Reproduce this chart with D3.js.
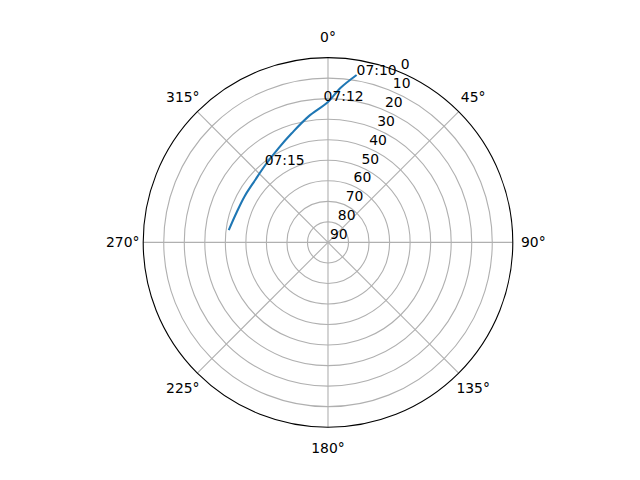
<!DOCTYPE html>
<html>
<head>
	<title></title>
	<style>
		body { margin: 0; background: #fff; }
		text { font-family: "DejaVu Sans", sans-serif; font-size: 13.9px; fill: #000; }
	</style>
</head>
<body>
	<svg id="container" width="640" height="480"></svg>
</body>
<script src="https://cdn.jsdelivr.net/npm/d3@7"></script>
<script>
	// pass track: azimuth (deg, clockwise from north) and elevation (deg)
	const azimuth = [9.7, 4.5, 0.1, 351.1, 341.6, 332.2, 321.0, 310.6, 299.0, 288.6, 277.1]
	const elevation = [7.3, 14.7, 21.5, 28.0, 34.0, 38.2, 41.5, 43.3, 43.6, 43.2, 41.3]

	// time annotations along the track
	const labelTimes = ["07:10", "07:12", "07:15"]
	const labelAz = [9.7, 358.2, 320.7]
	const labelEl = [7.3, 21.0, 41.3]

	const thetaTicks = [0, 45, 90, 135, 180, 225, 270, 315]
	const rTicks = [0, 10, 20, 30, 40, 50, 60, 70, 80, 90]

	let svg = d3.select("#container")
	let cx = 328, cy = 242.4, R = 184.8

	let g = svg.append("g").attr("transform", `translate(${cx},${cy})`)

	// elevation 90 at the centre, 0 on the rim
	let rScale = d3.scaleLinear().domain([90, 0]).range([0, R])
	let aScale = d3.scaleLinear().domain([0, 360]).range([0, 2 * Math.PI])

	let px = (az, el) => [rScale(el) * Math.sin(aScale(az)), -rScale(el) * Math.cos(aScale(az))]

	// grid circles
	g.selectAll("circle.grid")
		.data(rTicks.filter(d => d > 0 && d < 90))
		.enter().append("circle")
		.attr("class", "grid")
		.attr("r", d => rScale(d))
		.attr("fill", "none")
		.attr("stroke", "#b0b0b0")
		.attr("stroke-width", 1.1)

	// radial grid lines
	g.selectAll("line.grid")
		.data(thetaTicks)
		.enter().append("line")
		.attr("class", "grid")
		.attr("x1", 0).attr("y1", 0)
		.attr("x2", d => px(d, 0)[0])
		.attr("y2", d => px(d, 0)[1])
		.attr("stroke", "#b0b0b0")
		.attr("stroke-width", 1.1)

	// outer spine
	g.append("circle")
		.attr("r", rScale(0))
		.attr("fill", "none")
		.attr("stroke", "#000")
		.attr("stroke-width", 1.1)

	// theta labels
	g.selectAll("text.theta")
		.data(thetaTicks)
		.enter().append("text")
		.attr("class", "theta")
		.attr("x", d => (R + 20.5) * Math.sin(aScale(d)))
		.attr("y", d => -(R + 20.5) * Math.cos(aScale(d)))
		.attr("text-anchor", "middle")
		.attr("dominant-baseline", "central")
		.text(d => d + "°")

	// r labels along 22.5 deg
	g.selectAll("text.rlab")
		.data(rTicks)
		.enter().append("text")
		.attr("class", "rlab")
		.attr("x", d => px(22.5, d)[0] + 2)
		.attr("y", d => px(22.5, d)[1] - 3)
		.text(d => d)

	// track (smooth through the read points)
	let line = d3.lineRadial()
		.angle(d => aScale(d[0] > 180 ? d[0] - 360 : d[0]))
		.radius(d => rScale(d[1]))
		.curve(d3.curveCatmullRom)

	g.append("path")
		.datum(d3.zip(azimuth, elevation))
		.attr("d", line)
		.attr("fill", "none")
		.attr("stroke", "#1f77b4")
		.attr("stroke-width", 2.08)
		.attr("stroke-linejoin", "round")

	// time annotations
	g.selectAll("text.time")
		.data(d3.zip(labelTimes, labelAz, labelEl))
		.enter().append("text")
		.attr("class", "time")
		.attr("x", d => px(d[1], d[2])[0])
		.attr("y", d => px(d[1], d[2])[1])
		.text(d => d[0])
</script>
</html>
